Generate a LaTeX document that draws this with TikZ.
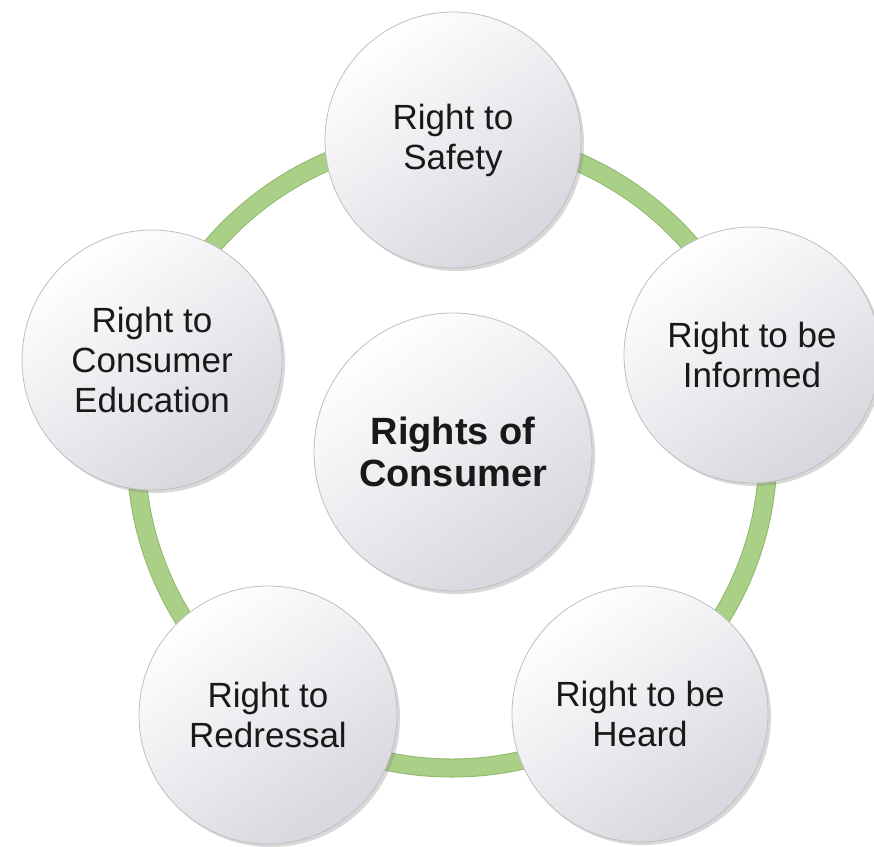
\documentclass[tikz,border=0pt]{standalone}
\usepackage{fontspec}
\setmainfont{Liberation Sans}
\usetikzlibrary{shadows}
\definecolor{ringgreen}{RGB}{170,207,135}
\definecolor{ringedge}{RGB}{145,185,110}
\definecolor{ballgray}{RGB}{216,214,222}
\definecolor{txt}{RGB}{25,25,25}
\tikzset{
  ball/.style={circle, inner sep=0pt, draw=gray!50, line width=0.8pt,
    top color=white, bottom color=ballgray, shading angle=35,
    drop shadow={shadow xshift=3pt, shadow yshift=-3pt, opacity=0.3, fill=gray},
    align=center, text=txt, font=\fontsize{35}{40}\selectfont},
  ringstyle/.style={draw=ringgreen, line width=17pt},
}
\begin{document}
\begin{tikzpicture}[x=1pt,y=-1pt]
\useasboundingbox (0,0) rectangle (874,846);
\fill[white] (0,0) rectangle (874,846);
\coordinate (ctr) at (452,452);
\draw[draw=ringedge, line width=19pt] (ctr) circle[radius=316pt];
\draw[ringstyle] (ctr) circle[radius=316pt];
\node[ball, minimum size=256pt] (safety) at (453,140) {Right to\\Safety};
\node[ball, minimum size=256pt] (informed) at (752,355) {Right to be\\Informed};
\node[ball, minimum size=256pt] (heard) at (640,714) {Right to be\\Heard};
\node[ball, minimum size=258pt] (redressal) at (268,715) {Right to\\Redressal};
\node[ball, minimum size=260pt] (education) at (152,360) {Right to\\Consumer\\Education};
\node[ball, minimum size=278pt, font=\fontsize{38}{42}\selectfont\bfseries] (center) at (453,452) {Rights of\\Consumer};
\end{tikzpicture}
\end{document}
